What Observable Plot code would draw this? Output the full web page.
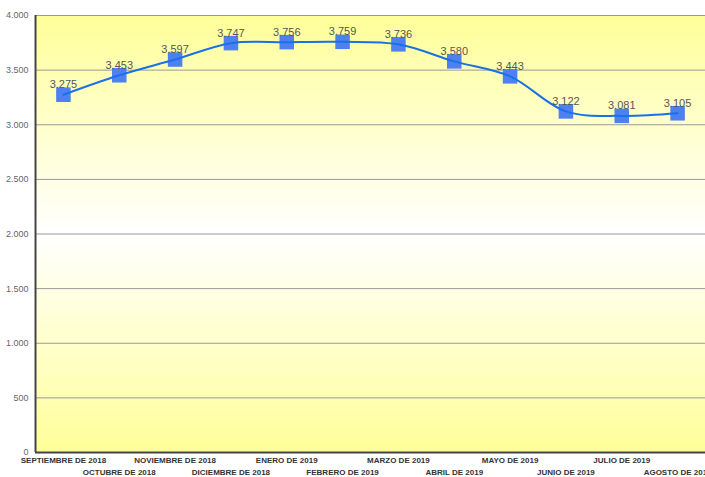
<!DOCTYPE html>
<html>
<head>
<meta charset="utf-8">
<script src="https://cdn.jsdelivr.net/npm/d3@7"></script>
<script src="https://cdn.jsdelivr.net/npm/@observablehq/plot@0.6"></script>
<style>
  html, body { margin: 0; padding: 0; background: #fff; }
  svg { display: block; }
</style>
</head>
<body>
<div id="chart"></div>
<script>
const months = [
  "SEPTIEMBRE DE 2018", "OCTUBRE DE 2018", "NOVIEMBRE DE 2018", "DICIEMBRE DE 2018",
  "ENERO DE 2019", "FEBRERO DE 2019", "MARZO DE 2019", "ABRIL DE 2019",
  "MAYO DE 2019", "JUNIO DE 2019", "JULIO DE 2019", "AGOSTO DE 2019"
];
const values = [3275, 3453, 3597, 3747, 3756, 3759, 3736, 3580, 3443, 3122, 3081, 3105];
const yTicks = [0, 500, 1000, 1500, 2000, 2500, 3000, 3500, 4000];

const data = months.map((m, i) => ({month: m, value: values[i]}));
const fmt = v => d3.format(",")(v).replace(/,/g, ".");

const chart = Plot.plot({
  width: 705,
  height: 477,
  marginLeft: 35,
  marginRight: 0,
  marginTop: 15,
  marginBottom: 25,
  style: {fontFamily: "Liberation Sans, Arial, sans-serif", background: "#fff", overflow: "visible"},
  x: {type: "point", domain: months, padding: 0.5, round: false, axis: null, label: null},
  y: {domain: [0, 4000], axis: null, label: null},
  marks: [
    Plot.frame({fill: "url(#bgGrad)", stroke: null}),
    Plot.ruleY(yTicks.filter(d => d > 0), {stroke: "#999", strokeWidth: 1}),
    Plot.ruleY([0], {stroke: "#444", strokeWidth: 2}),
    Plot.ruleX([months[0]], {dx: -27.9, stroke: "#444", strokeWidth: 2}),
    Plot.axisY(yTicks, {tickSize: 0, tickPadding: 7, tickFormat: fmt, fontSize: 9, fill: "#666", anchor: "left", label: null}),
    Plot.axisX(months.filter((d, i) => i % 2 === 0), {tickSize: 0, tickPadding: 5, fontSize: 8, fontWeight: "bold", fill: "#333", anchor: "bottom", label: null}),
    Plot.axisX(months.filter((d, i) => i % 2 === 1), {tickSize: 0, tickPadding: 17, fontSize: 8, fontWeight: "bold", fill: "#333", anchor: "bottom", label: null}),
    Plot.dot(data, {x: "month", y: "value", symbol: "square", r: 8.2, fill: "#4f80f0", stroke: null}),
    Plot.line(data, {x: "month", y: "value", curve: "catmull-rom", stroke: "#1a70e8", strokeWidth: 2}),
    Plot.text(data, {x: "month", y: "value", text: d => fmt(d.value), dy: -10, fontSize: 11, fill: "#555"})
  ]
});

const svg = d3.select(chart);
const defs = svg.insert("defs", ":first-child");
const g = defs.append("linearGradient").attr("id", "bgGrad").attr("x1", 0).attr("y1", 0).attr("x2", 0).attr("y2", 1);
g.append("stop").attr("offset", "0%").attr("stop-color", "#ffff99");
g.append("stop").attr("offset", "50%").attr("stop-color", "#ffffff");
g.append("stop").attr("offset", "100%").attr("stop-color", "#ffff99");

document.getElementById("chart").appendChild(chart);
</script>
</body>
</html>
